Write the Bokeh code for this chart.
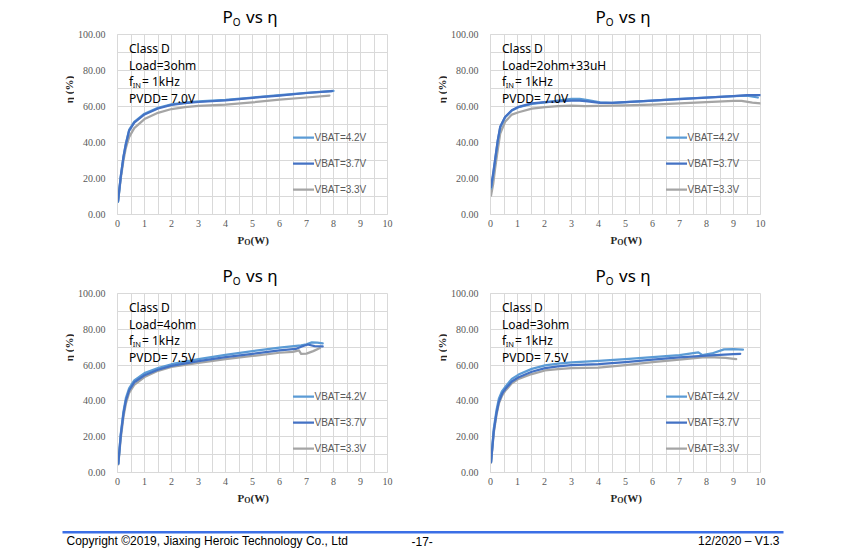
from bokeh.plotting import figure
from bokeh.models import (FixedTicker, PrintfTickFormatter, Label, Legend,
                          LegendItem, BoxAnnotation, Range1d)
from bokeh.layouts import column, row
from bokeh.embed import file_html
from bokeh.resources import INLINE

# ---------------- data ----------------
series_labels = ["VBAT=4.2V", "VBAT=3.7V", "VBAT=3.3V"]
x_ticks = [0, 1, 2, 3, 4, 5, 6, 7, 8, 9, 10]
y_ticks = [0, 20, 40, 60, 80, 100]
x_grid = [0, 0.5, 1, 1.5, 2, 2.5, 3, 3.5, 4, 4.5, 5, 5.5, 6, 6.5, 7, 7.5, 8, 8.5, 9, 9.5, 10]
y_grid = [0, 10, 20, 30, 40, 50, 60, 70, 80, 90, 100]

# top-left: Load=3ohm, PVDD=7.0V
tl_x_42 = [0.02, 0.12, 0.22, 0.31, 0.43, 0.62, 1.0, 1.5, 2.0, 2.5, 3.0, 4.0, 5.0, 6.0, 7.0, 8.0]
tl_y_42 = [7.0, 21, 32, 39.5, 47, 51.5, 56, 59.3, 61.2, 62.2, 62.8, 63.7, 65.0, 66.3, 67.6, 68.7]
tl_x_37 = [0.02, 0.12, 0.22, 0.31, 0.43, 0.62, 1.0, 1.5, 2.0, 2.5, 3.0, 4.0, 5.0, 6.0, 7.0, 7.95]
tl_y_37 = [7.5, 21, 32, 39, 46.5, 51, 55.6, 58.9, 60.9, 61.9, 62.5, 63.4, 64.8, 66.1, 67.5, 68.6]
tl_x_33 = [0.02, 0.12, 0.22, 0.31, 0.43, 0.62, 1.0, 1.5, 2.0, 2.5, 3.0, 4.0, 5.0, 6.0, 7.0, 7.85]
tl_y_33 = [7.0, 20, 30, 37, 43, 48, 53, 56.5, 58.6, 59.7, 60.3, 61.0, 62.3, 63.8, 65.0, 66.1]

# top-right: Load=2ohm+33uH, PVDD=7.0V
tr_x_42 = [0.02, 0.1, 0.17, 0.27, 0.36, 0.54, 0.79, 1.04, 1.53, 2.02, 2.5, 3.0, 3.3, 3.6, 4.06, 4.5, 5, 6, 7, 8, 9, 9.5, 9.9]
tr_y_42 = [14.4, 22, 30, 41, 48.5, 54, 57.8, 59.6, 61.5, 62.3, 63.3, 64.2, 64.3, 63.6, 62.3, 62.0, 62.4, 63.3, 64.2, 65.0, 65.8, 66.1, 65.0]
tr_x_37 = [0.02, 0.1, 0.17, 0.27, 0.36, 0.54, 0.79, 1.04, 1.53, 2.02, 2.5, 3.0, 3.3, 3.6, 4.06, 4.5, 5, 6, 7, 8, 9, 9.5, 10]
tr_y_37 = [15.3, 23, 30.5, 41.3, 48.7, 54.2, 57.9, 59.8, 61.7, 62.4, 62.9, 63.3, 63.2, 62.9, 62.0, 62.0, 62.4, 63.2, 64.1, 64.9, 65.8, 66.3, 66.3]
tr_x_33 = [0.02, 0.1, 0.17, 0.27, 0.36, 0.54, 0.79, 1.04, 1.53, 2.02, 2.5, 3, 3.5, 4, 5, 6, 7, 8, 9, 9.3, 9.7, 10]
tr_y_33 = [10.5, 17, 25.5, 36, 45, 51.5, 55.5, 56.8, 58.8, 59.7, 60.2, 60.5, 60.2, 60.3, 60.6, 61.1, 61.7, 62.4, 63.1, 63.1, 62.2, 61.7]

# bottom-left: Load=4ohm, PVDD=7.5V
bl_x_42 = [0.03, 0.12, 0.22, 0.31, 0.43, 0.62, 1.0, 1.5, 2, 3, 4, 5, 6, 6.8, 7.0, 7.2, 7.4, 7.6]
bl_y_42 = [5, 21.5, 34, 41.5, 47, 51.5, 55.5, 58.3, 60.5, 63.3, 65.7, 67.8, 69.8, 71.0, 71.6, 72.7, 72.6, 72.2]
bl_x_37 = [0.03, 0.12, 0.22, 0.31, 0.43, 0.62, 1.0, 1.5, 2, 3, 4, 5, 6, 6.6, 6.85, 7.05, 7.3, 7.6]
bl_y_37 = [5, 20.7, 32.8, 40.2, 45.8, 50.4, 54.3, 57.4, 59.6, 62.2, 64.4, 66.3, 68.2, 69.0, 70.5, 71.5, 70.6, 70.4]
bl_x_33 = [0.03, 0.12, 0.22, 0.31, 0.43, 0.62, 1.0, 1.5, 2, 3, 4, 5, 6, 6.5, 6.72, 6.8, 7.0, 7.25, 7.5]
bl_y_33 = [4.5, 19, 31, 38.5, 44.5, 49, 53.3, 56.8, 59, 61.3, 63.3, 65.1, 66.9, 67.4, 68.2, 66.3, 66.4, 67.8, 69.5]

# bottom-right: Load=3ohm, PVDD=7.5V
br_x_42 = [0.02, 0.12, 0.22, 0.31, 0.43, 0.54, 0.79, 1.04, 1.53, 2.02, 2.5, 3, 4, 5, 6, 7, 7.7, 7.85, 8.2, 8.65, 9.0, 9.35]
br_y_42 = [5.8, 24.4, 34.6, 41.2, 45.5, 47.7, 52.3, 54.7, 57.9, 59.8, 60.8, 61.5, 62.3, 63.3, 64.4, 65.6, 67.1, 65.6, 66.5, 68.8, 68.9, 68.6]
br_x_37 = [0.02, 0.12, 0.22, 0.31, 0.43, 0.54, 0.79, 1.04, 1.53, 2.02, 2.5, 3, 4, 5, 6, 7, 8, 9, 9.25]
br_y_37 = [5.8, 23, 33, 39.5, 44, 46.5, 50.8, 53.2, 56.3, 58.3, 59.3, 60.0, 60.5, 61.6, 63.0, 64.3, 65.3, 66.1, 66.3]
br_x_33 = [0.02, 0.12, 0.22, 0.31, 0.43, 0.54, 0.79, 1.04, 1.53, 2.02, 2.5, 3, 4, 5, 6, 7, 7.85, 8.3, 8.7, 9.1]
br_y_33 = [5.5, 22, 32, 38.5, 43, 45.5, 49.8, 52.3, 55.0, 57.0, 57.8, 58.3, 58.6, 60.0, 61.6, 63.0, 64.3, 64.3, 64.1, 63.3]

notes_tl = ["Class D", "Load=3ohm", "1kHz", "PVDD= 7.0V"]
notes_tr = ["Class D", "Load=2ohm+33uH", "1kHz", "PVDD= 7.0V"]
notes_bl = ["Class D", "Load=4ohm", "1kHz", "PVDD= 7.5V"]
notes_br = ["Class D", "Load=3ohm", "1kHz", "PVDD= 7.5V"]

# ---------------- style ----------------
COLORS = ["#5B9BD5", "#4472C4", "#A5A5A5"]
GRID = "#D9D9D9"
TXT = "#595959"
SANS = "Noto Sans"
SERIF = "Liberation Serif"
AXT = "#262626"
CHART_LEFT = 43
CHART_BOTTOM = 19
XL_H = 21


def lab(p, x, y, text, size, font=SANS, style="normal", color="#000000",
        align="left", baseline="middle", angle=0):
    p.add_layout(Label(x=x, y=y, x_units="screen", y_units="screen", text=text,
                       text_font=font, text_font_size=size, text_font_style=style,
                       text_color=color, text_align=align, text_baseline=baseline,
                       angle=angle))


def strip(w, h):
    s = figure(width=w, height=h, x_range=Range1d(0, w), y_range=Range1d(0, h),
               x_axis_type=None, y_axis_type=None, output_backend="svg",
               toolbar_location=None, min_border=0, title=None)
    s.outline_line_color = None
    s.grid.visible = False
    return s


def chart(series, notes, br, fh):
    p = figure(frame_width=270, frame_height=fh, x_range=Range1d(0, 10),
               y_range=Range1d(0, 100), output_backend="svg", toolbar_location=None,
               min_border_left=CHART_LEFT, min_border_top=4, min_border_right=br,
               min_border_bottom=CHART_BOTTOM, title=None)
    p.outline_line_color = GRID
    p.xaxis.ticker = FixedTicker(ticks=x_ticks)
    p.yaxis.ticker = FixedTicker(ticks=y_ticks)
    p.yaxis.formatter = PrintfTickFormatter(format="%.2f")
    p.xgrid.ticker = FixedTicker(ticks=x_grid)
    p.ygrid.ticker = FixedTicker(ticks=y_grid)
    p.grid.grid_line_color = GRID
    p.grid.grid_line_width = 1
    for ax in (p.xaxis[0], p.yaxis[0]):
        ax.axis_line_color = GRID
        ax.major_tick_line_color = None
        ax.minor_tick_line_color = None
        ax.major_tick_out = 0
        ax.major_tick_in = 0
        ax.minor_tick_out = 0
        ax.minor_tick_in = 0
        ax.major_label_text_font = SERIF
        ax.major_label_text_font_size = "10px"
        ax.major_label_text_color = TXT
    p.yaxis.major_label_standoff = 12
    p.xaxis.major_label_standoff = 5

    renderers = []
    for (xs, ys), c in zip(series, COLORS):
        renderers.append(p.line(xs, ys, line_color=c, line_width=2.25,
                                line_join="round", line_cap="round"))
    p.renderers = [renderers[2], renderers[0], renderers[1]]

    legend = Legend(items=[LegendItem(label=l, renderers=[r])
                           for l, r in zip(series_labels, renderers)],
                    location=(175.5, fh - 165.4), orientation="vertical",
                    padding=0, margin=0, spacing=6, glyph_width=21,
                    glyph_height=20, label_height=20, label_standoff=1,
                    border_line_alpha=0, background_fill_alpha=0,
                    label_text_font="Liberation Sans", label_text_font_size="10px",
                    label_text_color=TXT)
    p.add_layout(legend)

    top = fh - 14
    pitch = 16.6
    lab(p, 11.5, top, notes[0], "12px")
    lab(p, 11.5, top - pitch, notes[1], "12px")
    lab(p, 11.5, top - 2 * pitch, "f", "12px")
    lab(p, 15.2, top - 2 * pitch - 3, "IN", "7.5px")
    lab(p, 24.5, top - 2 * pitch, "= " + notes[2], "12px")
    lab(p, 11.5, top - 3 * pitch, notes[3], "12px")
    return p


def panel(series, notes, ylab_w, right_w, title_h, fh):
    frame_left = ylab_w + CHART_LEFT
    total_w = ylab_w + CHART_LEFT + 270 + right_w

    t = strip(total_w, title_h)
    lab(t, frame_left + 105, 14.3, "P", "17px")
    lab(t, frame_left + 115.3, 8.8, "O", "10px")
    lab(t, frame_left + 128.5, 14.3, "vs η", "17px")

    c = chart(series, notes, right_w, fh)

    ch = 4 + fh + CHART_BOTTOM
    y = strip(ylab_w, ch)
    lab(y, ylab_w - 5.5, CHART_BOTTOM + 106, "η (%)", "11px", font=SERIF,
        style="bold", color=AXT, align="center", angle=1.5707963)

    xl = strip(total_w, XL_H)
    lab(xl, frame_left + 120, 14.3, "P", "11px", font=SERIF, style="bold", color=AXT)
    lab(xl, frame_left + 126.8, 11.6, "O", "8px", font=SERIF, style="bold", color=AXT)
    lab(xl, frame_left + 133, 14.3, "(W)", "11px", font=SERIF, style="bold", color=AXT)
    return column(t, row(y, c), xl)


p_tl = panel([(tl_x_42, tl_y_42), (tl_x_37, tl_y_37), (tl_x_33, tl_y_33)],
             notes_tl, 74, 41, 30, 180)
p_tr = panel([(tr_x_42, tr_y_42), (tr_x_37, tr_y_37), (tr_x_33, tr_y_33)],
             notes_tr, 19, 40, 30, 180)
p_bl = panel([(bl_x_42, bl_y_42), (bl_x_37, bl_y_37), (bl_x_33, bl_y_33)],
             notes_bl, 74, 41, 35, 179)
p_br = panel([(br_x_42, br_y_42), (br_x_37, br_y_37), (br_x_33, br_y_33)],
             notes_br, 19, 40, 35, 179)

# footer
foot = strip(834, 40)
foot.add_layout(BoxAnnotation(left=62, right=783, bottom=19, top=21.5,
                              left_units="screen", right_units="screen",
                              bottom_units="screen", top_units="screen",
                              fill_color="#3B6FE6", fill_alpha=1, line_color=None))
lab(foot, 66, 11.5, "Copyright ©2019, Jiaxing Heroic Technology Co., Ltd", "12px",
    font="Liberation Sans")
lab(foot, 411, 11.5, "-17-", "12px", font="Liberation Sans")
lab(foot, 779, 11.5, "12/2020 – V1.3", "12px", font="Liberation Sans", align="right")

layout = column(row(p_tl, p_tr), row(p_bl, p_br), foot)

open("out.html", "w").write(file_html(layout, INLINE))
